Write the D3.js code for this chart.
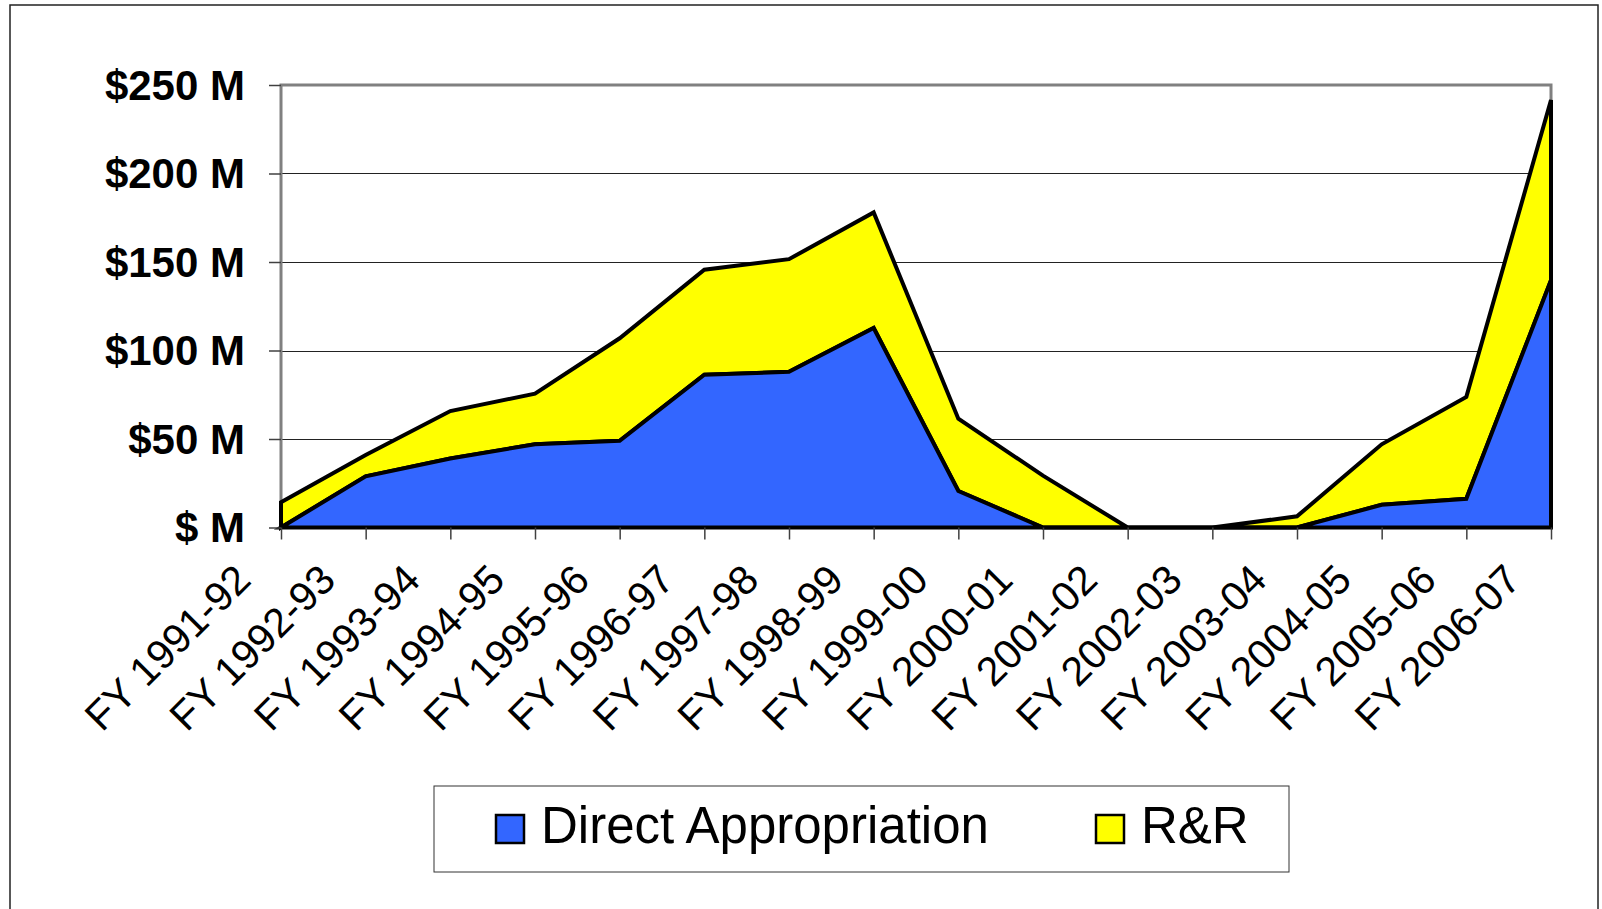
<!DOCTYPE html>
<html>
<head>
<meta charset="utf-8">
<script src="https://cdn.jsdelivr.net/npm/d3@7"></script>
<style>
  body { margin: 0; background: #fff; }
  svg { display: block; font-family: "Liberation Sans", Arial, sans-serif; }
</style>
</head>
<body>
<svg width="1602" height="909"></svg>
<script>
let width = 1602, height = 909;

// fiscal years along the x axis
let years = ["FY 1991-92", "FY 1992-93", "FY 1993-94", "FY 1994-95", "FY 1995-96",
  "FY 1996-97", "FY 1997-98", "FY 1998-99", "FY 1999-00", "FY 2000-01",
  "FY 2001-02", "FY 2002-03", "FY 2003-04", "FY 2004-05", "FY 2005-06", "FY 2006-07"]

// $ millions
let directApp = [0, 28.9, 39, 47, 49, 86.3, 88, 112.7, 20.6, 0, 0, 0, 0, 12.8, 16.2, 139.7]
let rAndR = [14.2, 12.1, 26.8, 28.6, 57.9, 59.3, 63.6, 65.3, 40.9, 29.3, 0, 0, 6.3, 34.2, 57.6, 101.8]

let yTicks = [0, 50, 100, 150, 200, 250]
let yTickLabels = ["$ M", "$50 M", "$100 M", "$150 M", "$200 M", "$250 M"]

let seriesNames = ["Direct Appropriation", "R&R"]
let seriesColors = ["#3366ff", "#ffff00"]

let svg = d3.select("svg")

// outer frame
svg.append("rect")
    .attr("x", 10).attr("y", 5)
    .attr("width", 1588).attr("height", 930)
    .attr("fill", "none")
    .attr("stroke", "#222")
    .attr("stroke-width", 1.5)

let x = d3.scalePoint().domain(years).range([281, 1551])
let y = d3.scaleLinear().domain([0, 250]).range([527.5, 85])

let rows = years.map((yr, i) => ({year: yr, da: directApp[i], rr: rAndR[i]}))
let stack = d3.stack().keys(["da", "rr"])(rows)

// gridlines
svg.append("g")
    .selectAll("line")
    .data(yTicks.filter(t => t > 0 && t < 250))
    .enter()
    .append("line")
    .attr("x1", x.range()[0]).attr("x2", x.range()[1])
    .attr("y1", d => Math.round(y(d)) + 0.5).attr("y2", d => Math.round(y(d)) + 0.5)
    .attr("stroke", "#222")
    .attr("stroke-width", 1)

// plot frame (grey)
svg.append("path")
    .attr("d", `M${x.range()[0]},${y(0)}V${y(250)}H${x.range()[1]}V${y(0)}`)
    .attr("fill", "none")
    .attr("stroke", "#808080")
    .attr("stroke-width", 3)

let area = d3.area()
    .x(d => x(d.data.year))
    .y0(d => y(d[0]))
    .y1(d => y(d[1]))

svg.append("g")
    .selectAll("path")
    .data(stack.slice().reverse())
    .enter()
    .append("path")
    .attr("d", area)
    .attr("fill", d => d.key == "da" ? seriesColors[0] : seriesColors[1])
    .attr("stroke", "#000")
    .attr("stroke-width", 4)
    .attr("stroke-linejoin", "miter")

// y axis
let yAxis = d3.axisLeft(y)
    .tickValues(yTicks)
    .tickSize(12)
    .tickPadding(24)
    .tickFormat((d, i) => yTickLabels[i])

let gy = svg.append("g")
    .attr("transform", `translate(${x.range()[0]},0)`)
    .call(yAxis)
gy.select(".domain").remove()
gy.selectAll(".tick line").attr("stroke", "#404040").attr("stroke-width", 1.5)
gy.selectAll(".tick text")
    .attr("font-size", "42px")
    .attr("font-weight", "bold")
    .attr("fill", "#000")
    .attr("dy", "0.34em")

// x axis
let xAxis = d3.axisBottom(x).tickSize(12).tickFormat("")
let gx = svg.append("g")
    .attr("transform", `translate(0,${y(0)})`)
    .call(xAxis)
gx.select(".domain").remove()
gx.selectAll(".tick line").attr("stroke", "#404040").attr("stroke-width", 1.5)

svg.append("g")
    .selectAll("text")
    .data(years)
    .enter()
    .append("text")
    .attr("transform", d => `translate(${x(d) - 28},582) rotate(-45)`)
    .attr("text-anchor", "end")
    .attr("font-size", "41px")
    .attr("fill", "#000")
    .text(d => d)

// legend
let legend = svg.append("g")
legend.append("rect")
    .attr("x", 434).attr("y", 786)
    .attr("width", 855).attr("height", 86)
    .attr("fill", "#fff")
    .attr("stroke", "#333")
    .attr("stroke-width", 1)

let legendX = [496, 1096]
seriesNames.forEach((name, i) => {
    legend.append("rect")
        .attr("x", legendX[i]).attr("y", 815)
        .attr("width", 28).attr("height", 28)
        .attr("fill", seriesColors[i])
        .attr("stroke", "#000")
        .attr("stroke-width", 2.5)
    legend.append("text")
        .attr("x", legendX[i] + 45).attr("y", 843)
        .attr("font-size", "51px")
        .attr("fill", "#000")
        .text(name)
})
</script>
</body>
</html>
